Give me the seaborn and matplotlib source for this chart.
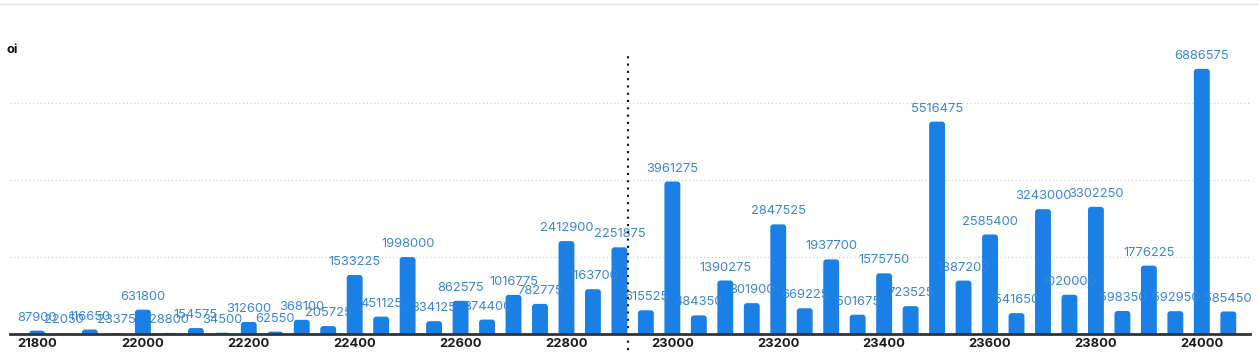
import matplotlib
matplotlib.use("Agg")
import matplotlib.pyplot as plt
import seaborn as sns
import pandas as pd
from matplotlib.patches import FancyBboxPatch
from matplotlib.lines import Line2D

strikes = [21800, 21850, 21900, 21950, 22000, 22050, 22100, 22150, 22200, 22250,
           22300, 22350, 22400, 22450, 22500, 22550, 22600, 22650, 22700, 22750,
           22800, 22850, 22900, 22950, 23000, 23050, 23100, 23150, 23200, 23250,
           23300, 23350, 23400, 23450, 23500, 23550, 23600, 23650, 23700, 23750,
           23800, 23850, 23900, 23950, 24000, 24050]
oi = [87900, 22050, 116650, 23375, 631800, 28800, 154575, 34500, 312600, 62550,
      368100, 205725, 1533225, 451125, 1998000, 334125, 862575, 374400, 1016775, 782775,
      2412900, 1163700, 2251875, 615525, 3961275, 484350, 1390275, 801900, 2847525, 669225,
      1937700, 501675, 1575750, 723525, 5516475, 1387200, 2585400, 541650, 3243000, 1020000,
      3302250, 598350, 1776225, 592950, 6886575, 585450]
xticks = [21800, 22000, 22200, 22400, 22600, 22800, 23000, 23200, 23400, 23600, 23800, 24000]
spot = 22916
gridvals = [2000000, 4000000, 6000000]

df = pd.DataFrame({"strike": strikes, "oi": oi})

sns.set_theme(style="white")
plt.rcParams["font.family"] = ["Inter", "DejaVu Sans"]

W, H = 1259, 356
fig = plt.figure(figsize=(W / 100, H / 100), dpi=100)
ax = fig.add_axes([10 / W, 1 - 334 / H, 1240 / W, 308 / H])

bar_color = "#1a80e5"
label_color = "#3a86d4"

sns.barplot(data=df, x="strike", y="oi", native_scale=True, width=0.6,
            color=bar_color, saturation=1, ax=ax, zorder=3)

ax.set_xlim(21749, 24091)
ax.set_ylim(0, 8000000)

# replace bars by top-rounded versions
ypp = 8000000 / 308.0
xpp = (24091 - 21749) / 1240.0
r_px = 3.0
rx = r_px * xpp
aspect = ypp / xpp
cont = ax.containers[0]
for p in list(cont.patches):
    x0, w, h = p.get_x(), p.get_width(), p.get_height()
    fb = FancyBboxPatch((x0, -r_px * ypp * 2), w, h + r_px * ypp * 2,
                        boxstyle=f"round,pad=0,rounding_size={rx}",
                        mutation_aspect=aspect, facecolor=bar_color,
                        edgecolor="none", zorder=3)
    ax.add_patch(fb)
    p.set_visible(False)

for s, v in zip(strikes, oi):
    ax.annotate(f"{v}", (s, v), xytext=(0, 5), textcoords="offset points",
                ha="center", va="bottom", fontsize=9.3, color=label_color, zorder=4)

for g in gridvals:
    ax.axhline(g, color="#d0d0d0", lw=0.9, ls=(0, (1, 2)), zorder=1)

ax.axvline(spot, ymin=-0.052, ymax=0.906, color="#111111", lw=1.5,
           ls=(0, (1, 2.5)), clip_on=False, zorder=5)

ax.set_xticks(xticks)
ax.set_xticklabels([str(t) for t in xticks], fontsize=9.3, fontweight="bold",
                   color="#1a1a1a")
ax.tick_params(axis="x", length=0, pad=3)
ax.set_yticks([])
ax.set_xlabel("")
ax.set_ylabel("")
for sp in ["top", "right", "left"]:
    ax.spines[sp].set_visible(False)
ax.spines["bottom"].set_color("#333333")
ax.spines["bottom"].set_linewidth(2)
ax.spines["bottom"].set_zorder(6)

fig.text(6 / W, 1 - 50 / H, "oi", fontsize=9.3, fontweight="bold",
         color="#111111", va="center", ha="left")
fig.add_artist(Line2D([0, 1], [1 - 4 / H, 1 - 4 / H], color="#e4e4e4", lw=1,
                      transform=fig.transFigure))

fig.savefig("out.png", dpi=100, facecolor="white")
